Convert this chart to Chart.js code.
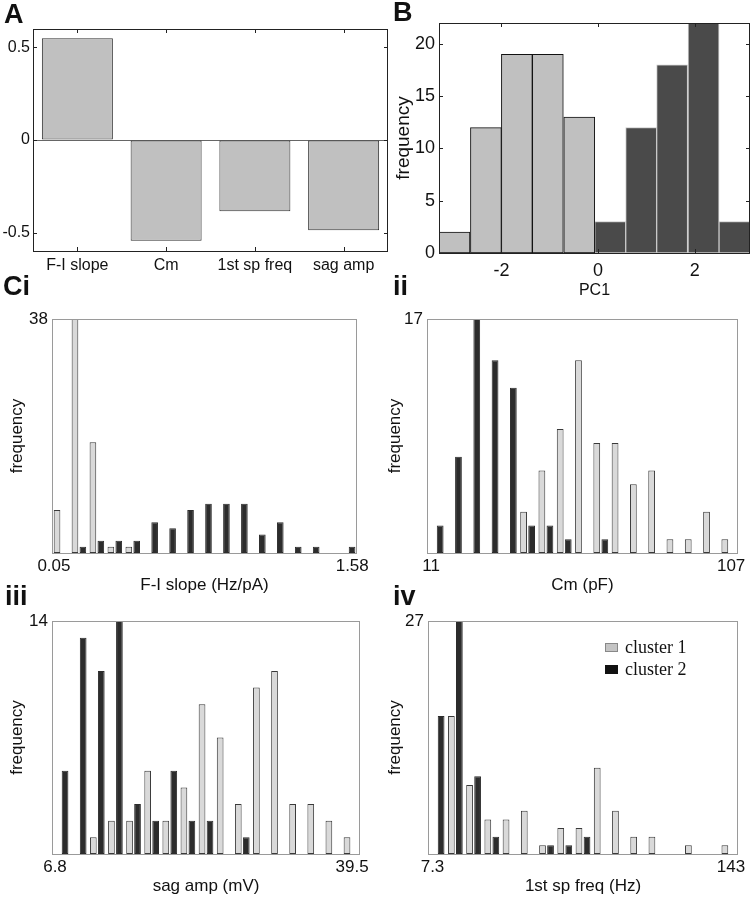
<!DOCTYPE html>
<html>
<head>
<meta charset="utf-8">
<script src="https://cdn.jsdelivr.net/npm/chart.js@4.4.1/dist/chart.umd.min.js"></script>
<style>
body { margin: 0; background: #fff; }
#fig { position: relative; width: 753px; height: 900px; overflow: hidden; font-family: "Liberation Sans", Arial, sans-serif; }
#fig canvas { position: absolute; }
.lbl { position: absolute; font-weight: bold; font-size: 27px; line-height: 27px; color: #111; }
</style>
</head>
<body>
<div id="fig">
    <canvas id="chartA" width="392" height="282" style="left:0;top:0"></canvas>
    <canvas id="chartB" width="361" height="300" style="left:392px;top:0"></canvas>
    <canvas id="chartCi" width="372" height="302" style="left:0;top:300px"></canvas>
    <canvas id="chartCii" width="378" height="302" style="left:375px;top:300px"></canvas>
    <canvas id="chartCiii" width="372" height="300" style="left:0;top:600px"></canvas>
    <canvas id="chartCiv" width="378" height="300" style="left:375px;top:600px"></canvas>
    <div class="lbl" style="left:4px;top:1px">A</div>
    <div class="lbl" style="left:393px;top:-1px">B</div>
    <div class="lbl" style="left:3px;top:273px">Ci</div>
    <div class="lbl" style="left:393px;top:273px">ii</div>
    <div class="lbl" style="left:5px;top:583px">iii</div>
    <div class="lbl" style="left:393px;top:583px">iv</div>
</div>
<script>
// A: loadings of PC1
const loadLabels = ['F-I slope', 'Cm', '1st sp freq', 'sag amp'];
const loadValues = [0.55, -0.545, -0.385, -0.488];
const loadTicks = [-0.5, 0, 0.5];

// B: PC1 histogram
const pcCenters = [-2.97, -2.32, -1.68, -1.04, -0.39, 0.25, 0.89, 1.53, 2.18, 2.82];
const pcCluster1 = [2, 12, 19, 19, 13, null, null, null, null, null];
const pcCluster2 = [null, null, null, null, null, 3, 12, 18, 22, 3];
const pcTicksX = [-2, 0, 2];
const pcTicksY = [0, 5, 10, 15, 20];

// C: feature histograms per cluster
const binLabels = ['1', '2', '3', '4', '5', '6', '7', '8', '9', '10', '11', '12', '13', '14', '15', '16', '17'];

const fiCluster1 = [7, 38, 18, 1, 1, 0, 0, 0, 0, 0, 0, 0, 0, 0, 0, 0, 0];
const fiCluster2 = [0, 1, 2, 2, 2, 5, 4, 7, 8, 8, 8, 3, 5, 1, 1, 0, 1];
const fiTicks = [0.05, 1.58];
const fiMax = 38;

const cmCluster1 = [0, 0, 0, 0, 0, 3, 6, 9, 14, 8, 8, 5, 6, 1, 1, 3, 1];
const cmCluster2 = [2, 7, 17, 14, 12, 2, 2, 1, 0, 1, 0, 0, 0, 0, 0, 0, 0];
const cmTicks = [11, 107];
const cmMax = 17;

const sagCluster1 = [0, 0, 1, 2, 2, 5, 2, 4, 9, 7, 3, 10, 11, 3, 3, 2, 1];
const sagCluster2 = [5, 13, 11, 14, 3, 2, 5, 2, 2, 0, 1, 0, 0, 0, 0, 0, 0];
const sagTicks = [6.8, 39.5];
const sagMax = 14;

const spCluster1 = [0, 16, 8, 4, 4, 5, 1, 3, 3, 10, 5, 2, 2, 0, 1, 0, 1];
const spCluster2 = [16, 27, 9, 2, 0, 0, 1, 1, 2, 0, 0, 0, 0, 0, 0, 0, 0];
const spTicks = [7.3, 143];
const spMax = 27;

Chart.defaults.font.family = '"Liberation Sans", Arial, sans-serif';
Chart.defaults.color = '#111';

const framePlugin = {
    id: 'frame',
    afterDatasetsDraw: function(chart, args, opts) {
        const a = chart.chartArea;
        const ctx = chart.ctx;
        ctx.save();
        ctx.strokeStyle = opts.color || '#000';
        ctx.lineWidth = 1;
        if (opts.tickLen) {
            const len = opts.tickLen;
            const xs = chart.scales.x;
            const ys = chart.scales.y;
            ctx.beginPath();
            for (let i = 0; i < xs.ticks.length; i++) {
                const px = Math.round(xs.getPixelForTick(i)) + 0.5;
                ctx.moveTo(px, a.bottom);
                ctx.lineTo(px, a.bottom - len);
                ctx.moveTo(px, a.top);
                ctx.lineTo(px, a.top + len);
            }
            for (let i = 0; i < ys.ticks.length; i++) {
                const py = Math.round(ys.getPixelForTick(i)) + 0.5;
                ctx.moveTo(a.left, py);
                ctx.lineTo(a.left + len, py);
                ctx.moveTo(a.right, py);
                ctx.lineTo(a.right - len, py);
            }
            ctx.stroke();
        }
        ctx.strokeRect(Math.round(a.left) + 0.5, Math.round(a.top) + 0.5,
            Math.round(a.right - a.left) - 1, Math.round(a.bottom - a.top));
        ctx.restore();
    }
};

const keyPlugin = {
    id: 'key',
    afterDraw: function(chart, args, opts) {
        const a = chart.chartArea;
        const ctx = chart.ctx;
        ctx.save();
        ctx.font = '18px "Liberation Serif", "Times New Roman", serif';
        ctx.textBaseline = 'alphabetic';
        chart.data.datasets.forEach(function(ds, i) {
            const x = a.left + opts.x;
            const y = a.top + opts.y + i * opts.gap;
            ctx.fillStyle = i === 0 ? '#c4c4c4' : '#111';
            ctx.fillRect(x, y, 13, 9);
            ctx.strokeStyle = i === 0 ? '#888' : '#111';
            ctx.strokeRect(x + 0.5, y + 0.5, 12, 8);
            ctx.fillStyle = '#111';
            ctx.fillText(ds.label, x + 20, y + 9.5);
        });
        ctx.restore();
    }
};

function fixedTicks(values) {
    return function(scale) {
        scale.ticks = values.map(function(v) { return {value: v}; });
    };
}

// panel A
new Chart(document.getElementById('chartA'), {
    type: 'bar',
    data: {
        labels: loadLabels,
        datasets: [{
            data: loadValues,
            backgroundColor: '#c0c0c0',
            borderColor: '#333',
            borderWidth: 1,
            borderSkipped: false,
            categoryPercentage: 0.8,
            barPercentage: 1
        }]
    },
    options: {
        responsive: false,
        animation: false,
        layout: {padding: {top: 29, right: 4, left: 0, bottom: 0}},
        plugins: {legend: {display: false}, tooltip: {enabled: false}, frame: {color: '#222', tickLen: 4}},
        scales: {
            x: {
                grid: {display: false, drawTicks: false},
                border: {display: false},
                afterFit: function(s) { s.height = 31; },
                ticks: {padding: 5, font: {size: 16}, autoSkip: false, maxRotation: 0}
            },
            y: {
                min: -0.6,
                max: 0.6,
                grid: {
                    drawTicks: false,
                    color: function(c) { return c.tick && c.tick.value === 0 ? '#666' : 'rgba(0,0,0,0)'; }
                },
                border: {display: false},
                afterBuildTicks: fixedTicks(loadTicks),
                afterFit: function(s) { s.width = 33; },
                ticks: {padding: 3, font: {size: 16}, callback: function(v) { return String(v); }}
            }
        }
    },
    plugins: [framePlugin]
});

// panel B
new Chart(document.getElementById('chartB'), {
    type: 'bar',
    data: {
        datasets: [{
            data: pcCenters.map(function(x, i) { return {x: x, y: pcCluster1[i]}; }),
            backgroundColor: '#c0c0c0',
            borderColor: '#111',
            borderWidth: 1,
            borderSkipped: false,
            grouped: false,
            categoryPercentage: 1,
            barPercentage: 1
        }, {
            data: pcCenters.map(function(x, i) { return {x: x, y: pcCluster2[i]}; }),
            backgroundColor: '#4a4a4a',
            borderColor: '#c8c8c8',
            borderWidth: 1,
            borderSkipped: false,
            grouped: false,
            categoryPercentage: 1,
            barPercentage: 1
        }]
    },
    options: {
        responsive: false,
        animation: false,
        layout: {padding: {top: 23, right: 3, left: 0, bottom: 0}},
        plugins: {legend: {display: false}, tooltip: {enabled: false}, frame: {color: '#222', tickLen: 4}},
        scales: {
            x: {
                type: 'linear',
                min: -3.29,
                max: 3.14,
                offset: false,
                grid: {display: false, drawTicks: false, offset: false},
                border: {display: false},
                afterBuildTicks: fixedTicks(pcTicksX),
                afterFit: function(s) { s.height = 47; },
                ticks: {padding: 7, font: {size: 18}, callback: function(v) { return String(v); }},
                title: {display: true, text: 'PC1', font: {size: 16}, padding: {top: 0, bottom: 0}}
            },
            y: {
                min: 0,
                max: 22,
                grid: {display: false, drawTicks: false},
                border: {display: false},
                afterBuildTicks: fixedTicks(pcTicksY),
                afterFit: function(s) { s.width = 47; },
                ticks: {padding: 4, font: {size: 18}, callback: function(v) { return String(v); }},
                title: {display: true, text: 'frequency', font: {size: 19}, padding: {top: 0, bottom: 0}}
            }
        }
    },
    plugins: [framePlugin]
});

function histPanel(id, box, c1, c2, ticks, range, yMax, xTitle, withKey) {
    const canvas = document.getElementById(id);
    const plugins = [framePlugin];
    if (withKey) plugins.push(keyPlugin);
    return new Chart(canvas, {
        type: 'bar',
        data: {
            labels: binLabels,
            datasets: [{
                label: 'cluster 1',
                data: c1,
                backgroundColor: '#d9d9d9',
                borderColor: '#3a3a3a',
                borderWidth: 1,
                borderSkipped: false,
                categoryPercentage: 0.88,
                barPercentage: 0.84
            }, {
                label: 'cluster 2',
                data: c2,
                backgroundColor: '#2c2c2c',
                borderColor: '#2c2c2c',
                borderWidth: 1,
                borderSkipped: false,
                categoryPercentage: 0.88,
                barPercentage: 0.84
            }]
        },
        options: {
            responsive: false,
            animation: false,
            layout: {padding: {top: box.top, right: canvas.width - box.right, left: 0, bottom: 0}},
            plugins: {
                legend: {display: false},
                tooltip: {enabled: false},
                frame: {color: '#9a9a9a', tickLen: 0},
                key: {x: 177, y: 22, gap: 22}
            },
            scales: {
                x: {display: false},
                x2: {
                    type: 'linear',
                    position: 'bottom',
                    min: range[0],
                    max: range[1],
                    offset: false,
                    grid: {display: false, drawTicks: false},
                    border: {display: false},
                    afterBuildTicks: fixedTicks(ticks),
                    afterFit: function(s) { s.height = canvas.height - box.bottom; },
                    ticks: {padding: 3, font: {size: 17}, autoSkip: false, maxRotation: 0, callback: function(v) { return String(v); }},
                    title: {display: true, text: xTitle, font: {size: 17}, padding: {top: 0, bottom: box.titlePad}}
                },
                y: {
                    min: 0,
                    max: yMax,
                    grid: {display: false, drawTicks: false},
                    border: {display: false},
                    afterBuildTicks: fixedTicks([yMax]),
                    afterFit: function(s) { s.width = box.left; },
                    ticks: {padding: 4, font: {size: 17}, callback: function(v) { return String(v); }},
                    title: {display: true, text: 'frequency', font: {size: 17}, padding: {top: box.yTitlePad, bottom: 0}}
                }
            }
        },
        plugins: plugins
    });
}

histPanel('chartCi', {left: 52, top: 19, right: 362, bottom: 253, titlePad: 6, yTitlePad: 7},
    fiCluster1, fiCluster2, fiTicks, [0.04, 1.605], fiMax, 'F-I slope (Hz/pA)', false);
histPanel('chartCii', {left: 52, top: 19, right: 363, bottom: 253, titlePad: 6, yTitlePad: 10},
    cmCluster1, cmCluster2, cmTicks, [9.7, 109.2], cmMax, 'Cm (pF)', false);
histPanel('chartCiii', {left: 52, top: 21, right: 363, bottom: 254, titlePad: 3, yTitlePad: 7},
    sagCluster1, sagCluster2, sagTicks, [6.47, 40.37], sagMax, 'sag amp (mV)', false);
histPanel('chartCiv', {left: 53, top: 21, right: 363, bottom: 254, titlePad: 3, yTitlePad: 10},
    spCluster1, spCluster2, spTicks, [5.25, 146.2], spMax, '1st sp freq (Hz)', true);
</script>
</body>
</html>
